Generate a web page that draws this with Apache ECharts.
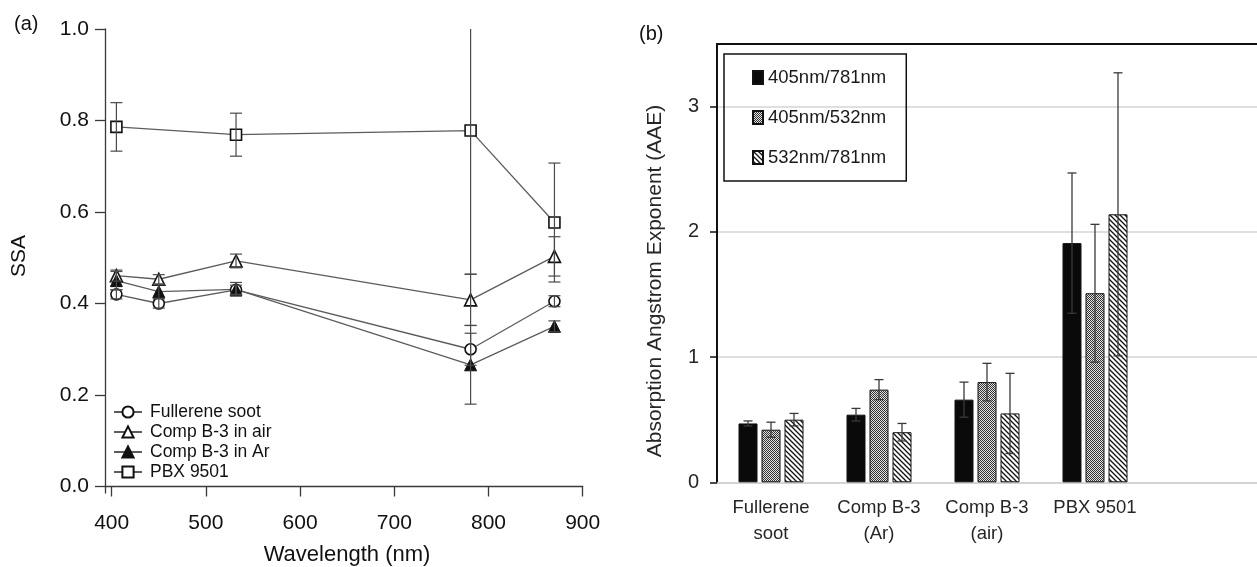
<!DOCTYPE html>
<html>
<head>
<meta charset="utf-8">
<script src="https://cdn.jsdelivr.net/npm/echarts@6/dist/echarts.min.js"></script>
<style>
html,body{margin:0;padding:0;background:#fff;}
#main{width:1257px;height:567px;}
</style>
</head>
<body>
<div id="main"></div>
<script>
// ---------- Panel (a): SSA vs wavelength ----------
const wlMain = [405, 450, 532, 781, 870];
const wlPBX = [405, 532, 781, 870];
const ssaFullerene = [0.420, 0.400, 0.430, 0.300, 0.405];
const errFullerene = [0.010, 0.010, 0.010, 0.035, 0.012];
const ssaCompAir = [0.461, 0.453, 0.493, 0.408, 0.503];
const errCompAir = [0.012, 0.010, 0.015, 0.056, 0.043];
const ssaCompAr = [0.450, 0.426, 0.431, 0.266, 0.350];
const errCompAr = [0.020, 0.015, 0.015, 0.086, 0.012];
const ssaPBX = [0.786, 0.769, 0.778, 0.577];
const errPBX = [0.053, 0.047, 0.314, 0.130];
const ssaTicks = [0.0, 0.2, 0.4, 0.6, 0.8, 1.0];
const wlTicks = [400, 500, 600, 700, 800, 900];

// ---------- Panel (b): AAE bars ----------
const materials = ['Fullerene\nsoot', 'Comp B-3\n(Ar)', 'Comp B-3\n(air)', 'PBX 9501'];
const aae405_781 = [0.47, 0.54, 0.66, 1.91];
const err405_781 = [0.02, 0.05, 0.14, 0.56];
const aae405_532 = [0.42, 0.74, 0.80, 1.51];
const err405_532 = [0.06, 0.08, 0.15, 0.55];
const aae532_781 = [0.50, 0.40, 0.55, 2.14];
const err532_781 = [0.05, 0.07, 0.32, 1.13];
const aaeTicks = [0, 1, 2, 3];

// ---------- patterns ----------
function grayPattern() {
  const c = document.createElement('canvas'); c.width = 2; c.height = 2;
  const g = c.getContext('2d');
  g.fillStyle = '#e2e2e2'; g.fillRect(0, 0, 2, 2);
  g.fillStyle = '#333'; g.fillRect(0, 0, 1, 1); g.fillRect(1, 1, 1, 1);
  return c;
}
function hatchPattern() {
  const s = 5;
  const c = document.createElement('canvas'); c.width = s; c.height = s;
  const g = c.getContext('2d');
  g.fillStyle = '#fff'; g.fillRect(0, 0, s, s);
  g.strokeStyle = '#111'; g.lineWidth = 1.3;
  g.beginPath();
  g.moveTo(-1, -1); g.lineTo(s + 1, s + 1);
  g.moveTo(-1, s - 1); g.lineTo(1, s + 1);
  g.moveTo(s - 1, -1); g.lineTo(s + 1, 1);
  g.stroke();
  return c;
}

const FONT_A = "'Liberation Sans', Arial, Helvetica, sans-serif";
const FONT_B = "'Liberation Sans Narrow', 'Arial Narrow', 'Liberation Sans', sans-serif";
const SSA_MAX = 1.0;

function pairs(xs, ys) { return xs.map((x, i) => [x, ys[i]]); }
function triples(xs, ys, es) { return xs.map((x, i) => [x, ys[i], es[i]]); }

function errRenderA(params, api) {
  const x = api.value(0), y = api.value(1), e = api.value(2);
  const hiRaw = y + e;
  const hi = Math.min(hiRaw, SSA_MAX);
  const pHi = api.coord([x, hi]);
  const pLo = api.coord([x, y - e]);
  const cap = 6;
  const style = { stroke: '#4a4a4a', lineWidth: 1.2 };
  const children = [
    { type: 'line', shape: { x1: pHi[0], y1: pHi[1], x2: pLo[0], y2: pLo[1] }, style },
    { type: 'line', shape: { x1: pLo[0] - cap, y1: pLo[1], x2: pLo[0] + cap, y2: pLo[1] }, style }
  ];
  if (hiRaw <= SSA_MAX) {
    children.push({ type: 'line', shape: { x1: pHi[0] - cap, y1: pHi[1], x2: pHi[0] + cap, y2: pHi[1] }, style });
  }
  return { type: 'group', children };
}

const BAR_W = 19, BAR_GAP = 4;
function errRenderB(offsetIdx) {
  return function (params, api) {
    const i = api.value(0), v = api.value(1), e = api.value(2);
    const off = (offsetIdx - 1) * (BAR_W + BAR_GAP);
    const pHi = api.coord([i, v + e]);
    const pLo = api.coord([i, v - e]);
    const x = pHi[0] + off;
    const cap = 4.5;
    const style = { stroke: '#3a3a3a', lineWidth: 1.3 };
    return {
      type: 'group', children: [
        { type: 'line', shape: { x1: x, y1: pHi[1], x2: x, y2: pLo[1] }, style },
        { type: 'line', shape: { x1: x - cap, y1: pHi[1], x2: x + cap, y2: pHi[1] }, style },
        { type: 'line', shape: { x1: x - cap, y1: pLo[1], x2: x + cap, y2: pLo[1] }, style }
      ]
    };
  };
}

const lineStyleA = { color: '#5c5c5c', width: 1.3 };
const openMarker = { color: '#fff', borderColor: '#111', borderWidth: 1.6 };
const filledMarker = { color: '#111', borderColor: '#111', borderWidth: 1 };

const grayImg = grayPattern();
const hatchImg = hatchPattern();
const barBorder = { borderColor: '#111', borderWidth: 1 };

const namesA = ['Fullerene soot', 'Comp B-3 in air', 'Comp B-3 in Ar', 'PBX 9501'];
const namesB = ['405nm/781nm', '405nm/532nm', '532nm/781nm'];

const chart = echarts.init(document.getElementById('main'), null, { renderer: 'canvas' });

const option = {
  animation: false,
  backgroundColor: '#fff',
  grid: [
    { left: 105, top: 29, width: 477.7, height: 464 },
    { left: 717, top: 44, right: -5, bottom: 84.7 }
  ],
  xAxis: [
    {
      type: 'value', gridIndex: 0, min: 392.9, max: 900,
      axisLine: { show: true, lineStyle: { color: '#3a3a3a', width: 1.3 } },
      axisTick: { show: true, length: 10, lineStyle: { color: '#3a3a3a', width: 1.3 }, customValues: wlTicks },
      axisLabel: { customValues: wlTicks, fontSize: 21, color: '#111', fontFamily: FONT_A, margin: 20 },
      splitLine: { show: false }
    },
    {
      type: 'category', gridIndex: 1, data: materials, max: 4,
      axisLine: { show: true, lineStyle: { color: '#cfcfcf', width: 1.5 } },
      axisTick: { show: false },
      axisLabel: {
        fontSize: 18.5, color: '#262626', fontFamily: FONT_B, margin: 13, lineHeight: 26, interval: 0,
        formatter: v => (v === undefined || v === null || v === 'undefined') ? '' : v
      },
      splitLine: { show: false }
    },
    {
      type: 'category', gridIndex: 1, position: 'top', data: materials, max: 4,
      axisLine: { show: true, lineStyle: { color: '#111', width: 2 } },
      axisTick: { show: false }, axisLabel: { show: false }, splitLine: { show: false }
    }
  ],
  yAxis: [
    {
      type: 'value', gridIndex: 0, min: -0.0142, max: 1.0,
      axisLine: { show: true, lineStyle: { color: '#3a3a3a', width: 1.3 } },
      axisTick: { show: true, length: 10, lineStyle: { color: '#3a3a3a', width: 1.3 }, customValues: ssaTicks },
      axisLabel: { customValues: ssaTicks, fontSize: 21, color: '#111', fontFamily: FONT_A, margin: 16, formatter: v => v.toFixed(1) },
      splitLine: { show: false }
    },
    {
      type: 'value', gridIndex: 1, min: 0, max: 3.5, interval: 0.5,
      axisLine: { show: true, lineStyle: { color: '#111', width: 2 } },
      axisTick: { show: true, length: 7, lineStyle: { color: '#111', width: 1.5 }, customValues: aaeTicks },
      axisLabel: { customValues: aaeTicks, fontSize: 20, color: '#262626', fontFamily: FONT_B, margin: 18 },
      splitLine: { show: true, lineStyle: { color: '#d4d4d4', width: 1.5 }, interval: (i, v) => aaeTicks.indexOf(v) > 0 }
    }
  ],
  legend: [
    {
      data: namesA, orient: 'vertical', left: 113, top: 403, itemGap: 2,
      itemWidth: 28, itemHeight: 14, padding: 0, align: 'left',
      textStyle: { fontSize: 17.5, color: '#111', fontFamily: FONT_A, lineHeight: 18, padding: [0, 0, 0, 3] }
    },
    {
      data: namesB, orient: 'vertical', left: 724, top: 54, itemGap: 19,
      itemWidth: 10, itemHeight: 13, padding: [13, 20, 13, 28], icon: 'rect',
      borderColor: '#111', borderWidth: 1.5, borderRadius: 0,
      textStyle: { fontSize: 18.5, color: '#1a1a1a', fontFamily: FONT_B, lineHeight: 21 }
    }
  ],
  graphic: [
    { type: 'text', left: 14, top: 14, style: { text: '(a)', fontSize: 20, fontFamily: FONT_A, fill: '#111' } },
    { type: 'text', left: 639, top: 24, style: { text: '(b)', fontSize: 20, fontFamily: FONT_A, fill: '#111' } },
    { type: 'text', x: 19, y: 256, rotation: Math.PI / 2,
      style: { text: 'SSA', fontSize: 21, fontFamily: FONT_A, fill: '#111', align: 'center', verticalAlign: 'middle' } },
    { type: 'text', x: 347, y: 555,
      style: { text: 'Wavelength (nm)', fontSize: 22, fontFamily: FONT_A, fill: '#111', align: 'center', verticalAlign: 'middle' } },
    { type: 'text', x: 655, y: 281, rotation: Math.PI / 2,
      style: { text: 'Absorption Angstrom Exponent (AAE)', fontSize: 21, fontFamily: FONT_A, fill: '#262626', align: 'center', verticalAlign: 'middle' } }
  ],
  series: [
    { name: 'Fullerene soot', type: 'line', xAxisIndex: 0, yAxisIndex: 0, data: pairs(wlMain, ssaFullerene),
      symbol: 'circle', symbolSize: 11, lineStyle: lineStyleA, itemStyle: openMarker, z: 3 },
    { name: 'Comp B-3 in air', type: 'line', xAxisIndex: 0, yAxisIndex: 0, data: pairs(wlMain, ssaCompAir),
      symbol: 'triangle', symbolSize: 12, lineStyle: lineStyleA, itemStyle: openMarker, z: 3 },
    { name: 'Comp B-3 in Ar', type: 'line', xAxisIndex: 0, yAxisIndex: 0, data: pairs(wlMain, ssaCompAr),
      symbol: 'triangle', symbolSize: 12, lineStyle: lineStyleA, itemStyle: filledMarker, z: 3 },
    { name: 'PBX 9501', type: 'line', xAxisIndex: 0, yAxisIndex: 0, data: pairs(wlPBX, ssaPBX),
      symbol: 'rect', symbolSize: 11, lineStyle: lineStyleA, itemStyle: openMarker, z: 3 },
    { type: 'custom', xAxisIndex: 0, yAxisIndex: 0, renderItem: errRenderA, data: triples(wlMain, ssaFullerene, errFullerene), z: 5, silent: true },
    { type: 'custom', xAxisIndex: 0, yAxisIndex: 0, renderItem: errRenderA, data: triples(wlMain, ssaCompAir, errCompAir), z: 5, silent: true },
    { type: 'custom', xAxisIndex: 0, yAxisIndex: 0, renderItem: errRenderA, data: triples(wlMain, ssaCompAr, errCompAr), z: 5, silent: true },
    { type: 'custom', xAxisIndex: 0, yAxisIndex: 0, renderItem: errRenderA, data: triples(wlPBX, ssaPBX, errPBX), z: 5, silent: true },

    { name: '405nm/781nm', type: 'bar', xAxisIndex: 1, yAxisIndex: 1, data: aae405_781, barWidth: BAR_W, barGap: (BAR_GAP / BAR_W * 100) + '%',
      itemStyle: Object.assign({ color: '#0a0a0a' }, barBorder) },
    { name: '405nm/532nm', type: 'bar', xAxisIndex: 1, yAxisIndex: 1, data: aae405_532, barWidth: BAR_W,
      itemStyle: Object.assign({ color: { image: grayImg, repeat: 'repeat' } }, barBorder) },
    { name: '532nm/781nm', type: 'bar', xAxisIndex: 1, yAxisIndex: 1, data: aae532_781, barWidth: BAR_W,
      itemStyle: Object.assign({ color: { image: hatchImg, repeat: 'repeat' } }, barBorder) },
    { type: 'custom', xAxisIndex: 1, yAxisIndex: 1, renderItem: errRenderB(0), data: aae405_781.map((v, i) => [i, v, err405_781[i]]), z: 5, silent: true },
    { type: 'custom', xAxisIndex: 1, yAxisIndex: 1, renderItem: errRenderB(1), data: aae405_532.map((v, i) => [i, v, err405_532[i]]), z: 5, silent: true },
    { type: 'custom', xAxisIndex: 1, yAxisIndex: 1, renderItem: errRenderB(2), data: aae532_781.map((v, i) => [i, v, err532_781[i]]), z: 5, silent: true }
  ]
};
chart.setOption(option);
</script>
</body>
</html>
